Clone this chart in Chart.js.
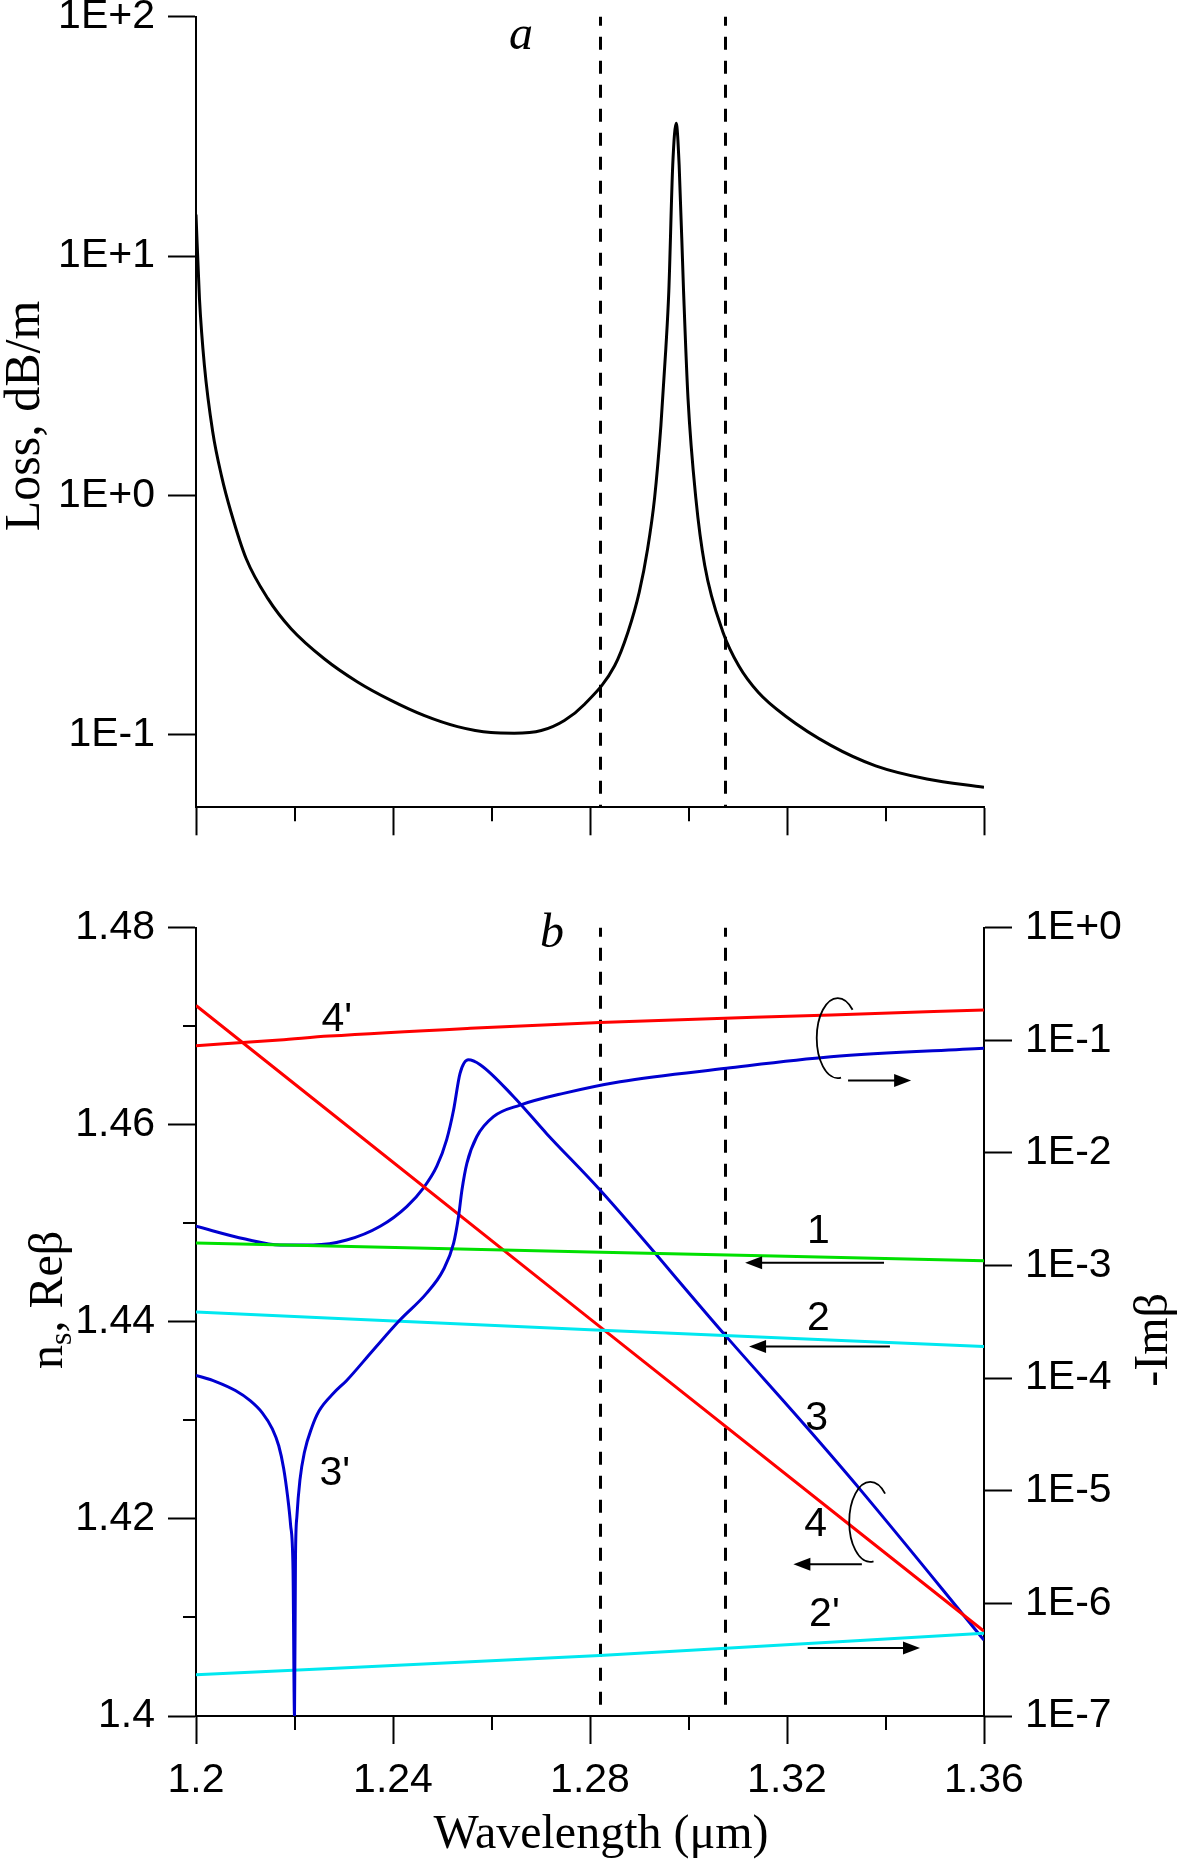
<!DOCTYPE html>
<html>
<head>
<meta charset="utf-8">
<script src="https://cdn.jsdelivr.net/npm/chart.js@4.4.1/dist/chart.umd.min.js"></script>
<style>
  html, body { margin: 0; padding: 0; background: #fff; }
  body { width: 1181px; height: 1862px; position: relative; overflow: hidden; }
  #wrapA { position: absolute; left: 0; top: -30px; width: 1181px; height: 900px; }
  #wrapB { position: absolute; left: 0; top: 870px; width: 1181px; height: 992px; }
</style>
</head>
<body>
<div id="wrapA"><canvas id="chartA"></canvas></div>
<div id="wrapB"><canvas id="chartB"></canvas></div>
<script>
// ---- ticks ----
const wlTicks = [1.2, 1.24, 1.28, 1.32, 1.36];
const wlMinorTicks = [1.22, 1.26, 1.30, 1.34];
const lossTicks = [0.1, 1, 10, 100];
const reTicks = [1.40, 1.42, 1.44, 1.46, 1.48];
const reMinorTicks = [1.41, 1.43, 1.45, 1.47];
const imTicks = [1e-7, 1e-6, 1e-5, 1e-4, 1e-3, 1e-2, 1e-1, 1];
const markerWl = [1.282, 1.3075];

// ---- (a) loss, dB/m ----
const lossWl = [1.2000, 1.2007, 1.2017, 1.2034, 1.2052, 1.2071, 1.2102, 1.2146, 1.2193, 1.2261,
  1.2328, 1.2396, 1.2464, 1.2531, 1.2599, 1.2646, 1.2701, 1.2748, 1.2789, 1.2850,
  1.2877, 1.2900, 1.2917, 1.2931, 1.2944, 1.2954, 1.2960, 1.2968, 1.2975, 1.2981,
  1.2990, 1.2999, 1.3015, 1.3033, 1.3070, 1.3102, 1.3142, 1.3196, 1.3289, 1.3380,
  1.3484, 1.3600];
const lossDb = [14.9, 6.65, 3.50, 1.84, 1.20, 0.852, 0.543, 0.370, 0.277, 0.207,
  0.166, 0.139, 0.120, 0.108, 0.102, 0.1014, 0.104, 0.1146, 0.134, 0.194,
  0.268, 0.394, 0.598, 0.968, 1.96, 4.11, 7.1, 24.0, 35.9, 24.0,
  7.1, 2.54, 0.968, 0.509, 0.268, 0.194, 0.150, 0.120, 0.0902, 0.0741,
  0.0653, 0.0603];

// ---- (b) Re beta (left axis) ----
const c1Wl = [1.20, 1.28, 1.36];
const c1Re = [1.4480, 1.4471, 1.4462];
const c2Wl = [1.20, 1.28, 1.36];
const c2Re = [1.4410, 1.4392, 1.4375];
const c4Wl = [1.20, 1.28, 1.36];
const c4Re = [1.4721, 1.4403, 1.4086];
const c3Wl = [1.2000, 1.2100, 1.2171, 1.2238, 1.2306, 1.2374, 1.2428, 1.2462, 1.2489, 1.2509,
  1.2523, 1.2536, 1.2553, 1.2577, 1.2644, 1.2712, 1.2820, 1.3077, 1.3240, 1.3350, 1.3600];
const c3Re = [1.4497, 1.4484, 1.4478, 1.4478, 1.4483, 1.4497, 1.4517, 1.4536, 1.4558, 1.4585,
  1.4615, 1.4652, 1.4666, 1.4661, 1.4629, 1.4591, 1.4534, 1.4385, 1.4293, 1.4229, 1.4077];

// ---- (b) -Im beta (right axis) ----
const c2pWl = [1.20, 1.282, 1.36];
const c2pIm = [2.33e-7, 3.45e-7, 5.42e-7];
const c4pWl = [1.200, 1.217, 1.227, 1.2557, 1.282, 1.329, 1.360];
const c4pIm = [0.0897, 0.1007, 0.109, 0.128, 0.144, 0.168, 0.186];
const c3pWl = [1.2000, 1.2040, 1.2080, 1.2110, 1.2135, 1.2155, 1.2168, 1.2178, 1.2186, 1.2192,
  1.2197, 1.2200, 1.2202, 1.2205, 1.2211, 1.2220, 1.2235, 1.2250, 1.2280, 1.2306,
  1.2360, 1.2414, 1.2468, 1.2502, 1.2523, 1.2533, 1.2540, 1.2550, 1.2570, 1.2604,
  1.2658, 1.2746, 1.2861, 1.3077, 1.3289, 1.3600];
const c3pIm = [1.06e-4, 9.33e-5, 7.76e-5, 6.31e-5, 4.90e-5, 3.55e-5, 2.51e-5, 1.58e-5, 8.91e-6, 5.01e-6,
  2.0e-6, 1e-7, 2.57e-6, 6.03e-6, 1.245e-5, 2.19e-5, 3.63e-5, 5.13e-5, 7.41e-5, 9.55e-5,
  1.78e-4, 3.28e-4, 5.66e-4, 9.12e-4, 1.574e-3, 2.71e-3, 4.69e-3, 8.09e-3, 1.393e-2, 2.10e-2,
  2.66e-2, 3.38e-2, 4.29e-2, 5.64e-2, 7.14e-2, 8.49e-2];

// ---- annotations of (b), in data units (wavelength, Re beta) ----
const curveLabels = [
  { text: "4'", wl: 1.2286, re: 1.4707 },
  { text: '1', wl: 1.3264, re: 1.4491 },
  { text: '2', wl: 1.3264, re: 1.4403 },
  { text: '3', wl: 1.3260, re: 1.4302 },
  { text: '4', wl: 1.3258, re: 1.4194 },
  { text: "2'", wl: 1.3276, re: 1.4103 },
  { text: "3'", wl: 1.2282, re: 1.4246 }
];
const arrows = [
  { from: 1.3397, to: 1.3115, re: 1.4460 },
  { from: 1.3409, to: 1.3123, re: 1.4375 },
  { from: 1.3352, to: 1.3213, re: 1.4154 },
  { from: 1.3242, to: 1.3470, re: 1.4069 },
  { from: 1.3324, to: 1.3452, re: 1.4645 }
];
const brackets = [
  { wl: 1.3303, re: 1.4688 },
  { wl: 1.3369, re: 1.4197 }
];

const SANS = "'Liberation Sans', Arial, sans-serif";
const SERIF = "'Liberation Serif', 'Times New Roman', serif";

function pts(xs, ys) { return xs.map((x, i) => ({ x: x, y: ys[i] })); }
function fixTicks(values) { return function (scale) { scale.ticks = values.map(v => ({ value: v })); }; }
function expLabel(v) {
  const e = Math.round(Math.log10(v));
  return '1E' + (e >= 0 ? '+' : '') + e;
}
function line(ds, color) {
  return { data: ds, borderColor: color, borderWidth: 3, pointRadius: 0, fill: false,
    cubicInterpolationMode: 'monotone' };
}
const gridOpts = { drawOnChartArea: false, drawTicks: true, tickLength: 28, tickWidth: 2, tickColor: '#000' };
const borderOpts = { display: true, color: '#000', width: 2 };
const tickFont = { family: SANS, size: 41 };

// draws minor ticks, marker lines, titles and annotations
const decor = {
  id: 'decor',
  beforeDatasetsDraw(chart, args, o) {
    const ctx = chart.ctx, a = chart.chartArea, xs = chart.scales.x;
    ctx.save();
    ctx.strokeStyle = '#000';
    ctx.lineWidth = 3;
    ctx.setLineDash([13, 11]);
    ctx.lineDashOffset = 4;
    markerWl.forEach(v => {
      const px = Math.round(xs.getPixelForValue(v)) + 0.5;
      ctx.beginPath(); ctx.moveTo(px, a.top); ctx.lineTo(px, a.bottom); ctx.stroke();
    });
    ctx.restore();
  },
  afterDraw(chart, args, o) {
    const ctx = chart.ctx, a = chart.chartArea, xs = chart.scales.x;
    ctx.save();
    ctx.strokeStyle = '#000';
    ctx.fillStyle = '#000';
    ctx.lineWidth = 2;
    wlMinorTicks.forEach(v => {
      const px = Math.round(xs.getPixelForValue(v));
      ctx.beginPath(); ctx.moveTo(px, a.bottom); ctx.lineTo(px, a.bottom + 14); ctx.stroke();
    });
    if (o.yMinor) {
      const ys = chart.scales[o.yMinor];
      reMinorTicks.forEach(v => {
        const py = Math.round(ys.getPixelForValue(v));
        ctx.beginPath(); ctx.moveTo(a.left, py); ctx.lineTo(a.left - 13, py); ctx.stroke();
      });
    }
    // panel letter
    const ly = chart.scales[o.letter.axis];
    ctx.font = 'italic 48px ' + SERIF;
    ctx.textAlign = 'center';
    ctx.textBaseline = 'middle';
    ctx.fillText(o.letter.text, xs.getPixelForValue(o.letter.wl), ly.getPixelForValue(o.letter.y));
    // axis titles
    ctx.textBaseline = 'alphabetic';
    if (o.kind === 'a') {
      ctx.save();
      ctx.translate(a.left - 157, (a.top + a.bottom) / 2 + 4);
      ctx.rotate(-Math.PI / 2);
      ctx.font = '50px ' + SERIF;
      ctx.fillText('Loss, dB/m', 0, 0);
      ctx.restore();
    } else {
      const ys = chart.scales.yRe;
      ctx.font = '48px ' + SERIF;
      ctx.fillText('Wavelength (\u03bcm)', (a.left + a.right) / 2 + 11, a.bottom + 132);
      // left title with subscript
      ctx.save();
      ctx.translate(a.left - 134, (a.top + a.bottom) / 2 - 22);
      ctx.rotate(-Math.PI / 2);
      const big = '48px ' + SERIF, small = '32px ' + SERIF;
      ctx.font = big;
      const wn = ctx.measureText('n').width, wr = ctx.measureText(', Re\u03b2').width;
      ctx.font = small;
      const ws = ctx.measureText('s').width;
      let x0 = -(wn + ws + wr) / 2;
      ctx.textAlign = 'left';
      ctx.font = big; ctx.fillText('n', x0, 0);
      ctx.font = small; ctx.fillText('s', x0 + wn, 9);
      ctx.font = big; ctx.fillText(', Re\u03b2', x0 + wn + ws, 0);
      ctx.restore();
      // right title
      ctx.save();
      ctx.translate(a.right + 183, (a.top + a.bottom) / 2 + 18);
      ctx.rotate(-Math.PI / 2);
      ctx.font = '48px ' + SERIF;
      ctx.textAlign = 'center';
      ctx.fillText('-Im\u03b2', 0, 0);
      ctx.restore();
      // curve numbers
      ctx.font = '41px ' + SANS;
      ctx.textAlign = 'center';
      ctx.textBaseline = 'middle';
      curveLabels.forEach(l => ctx.fillText(l.text, xs.getPixelForValue(l.wl), ys.getPixelForValue(l.re)));
      // arrows
      ctx.lineWidth = 2;
      arrows.forEach(ar => {
        const x1 = xs.getPixelForValue(ar.from), x2 = xs.getPixelForValue(ar.to), y = ys.getPixelForValue(ar.re);
        const dir = Math.sign(x2 - x1);
        ctx.beginPath(); ctx.moveTo(x1, y); ctx.lineTo(x2 - dir * 12, y); ctx.stroke();
        ctx.beginPath(); ctx.moveTo(x2, y); ctx.lineTo(x2 - dir * 17, y - 6.5); ctx.lineTo(x2 - dir * 17, y + 6.5);
        ctx.closePath(); ctx.fill();
      });
      // brackets
      ctx.lineWidth = 1.8;
      brackets.forEach(b => {
        ctx.beginPath();
        ctx.ellipse(xs.getPixelForValue(b.wl), ys.getPixelForValue(b.re), 21, 40, 0, -Math.PI / 4, Math.PI * 0.45, true);
        ctx.stroke();
      });
    }
    ctx.restore();
  }
};

const xAxis = (h, showLabels) => ({
  type: 'linear', position: 'bottom', min: 1.2, max: 1.36,
  afterBuildTicks: fixTicks(wlTicks),
  afterFit: s => { s.height = h; },
  grid: gridOpts, border: borderOpts,
  ticks: { color: '#000', font: tickFont, padding: 12, maxRotation: 0, autoSkip: false,
    callback: v => showLabels ? String(Math.round(v * 100) / 100) : '' }
});

new Chart(document.getElementById('chartA'), {
  type: 'line',
  data: { datasets: [line(pts(lossWl, lossDb), '#000')] },
  options: {
    responsive: true, maintainAspectRatio: false, animation: false, devicePixelRatio: 1,
    layout: { padding: { left: 0, right: 197, top: 46.7, bottom: 22.7 } },
    plugins: { legend: { display: false }, tooltip: { enabled: false },
      decor: { kind: 'a', letter: { text: 'a', wl: 1.2660, y: 83, axis: 'y' } } },
    scales: {
      x: xAxis(40, false),
      y: {
        type: 'logarithmic', position: 'left', min: 0.0497, max: 100,
        afterBuildTicks: fixTicks(lossTicks),
        afterFit: s => { s.width = 196; },
        grid: gridOpts, border: borderOpts,
        ticks: { color: '#000', font: tickFont, padding: 13, callback: v => expLabel(v) }
      }
    }
  },
  plugins: [decor]
});

new Chart(document.getElementById('chartB'), {
  type: 'line',
  data: {
    datasets: [
      Object.assign(line(pts(c4pWl, c4pIm), '#ff0000'), { yAxisID: 'yIm' }),
      Object.assign(line(pts(c3pWl, c3pIm), '#0000d0'), { yAxisID: 'yIm' }),
      Object.assign(line(pts(c2pWl, c2pIm), '#00e8f0'), { yAxisID: 'yIm' }),
      Object.assign(line(pts(c1Wl, c1Re), '#00e000'), { yAxisID: 'yRe' }),
      Object.assign(line(pts(c2Wl, c2Re), '#00e8f0'), { yAxisID: 'yRe' }),
      Object.assign(line(pts(c4Wl, c4Re), '#ff0000'), { yAxisID: 'yRe' }),
      Object.assign(line(pts(c3Wl, c3Re), '#0000d0'), { yAxisID: 'yRe' })
    ]
  },
  options: {
    responsive: true, maintainAspectRatio: false, animation: false, devicePixelRatio: 1,
    layout: { padding: { left: 0, right: 0, top: 57.7, bottom: 0 } },
    plugins: { legend: { display: false }, tooltip: { enabled: false },
      decor: { kind: 'b', yMinor: 'yRe', letter: { text: 'b', wl: 1.2723, y: 1.4793, axis: 'yRe' } } },
    scales: {
      x: xAxis(146, true),
      yRe: {
        type: 'linear', position: 'left', min: 1.40, max: 1.48,
        afterBuildTicks: fixTicks(reTicks),
        afterFit: s => { s.width = 196; },
        grid: gridOpts, border: borderOpts,
        ticks: { color: '#000', font: tickFont, padding: 13, callback: v => String(Math.round(v * 100) / 100) }
      },
      yIm: {
        type: 'logarithmic', position: 'right', min: 1e-7, max: 1,
        afterBuildTicks: fixTicks(imTicks),
        afterFit: s => { s.width = 197; },
        grid: gridOpts, border: borderOpts,
        ticks: { color: '#000', font: tickFont, padding: 13, callback: v => expLabel(v) }
      }
    }
  },
  plugins: [decor]
});
</script>
</body>
</html>
